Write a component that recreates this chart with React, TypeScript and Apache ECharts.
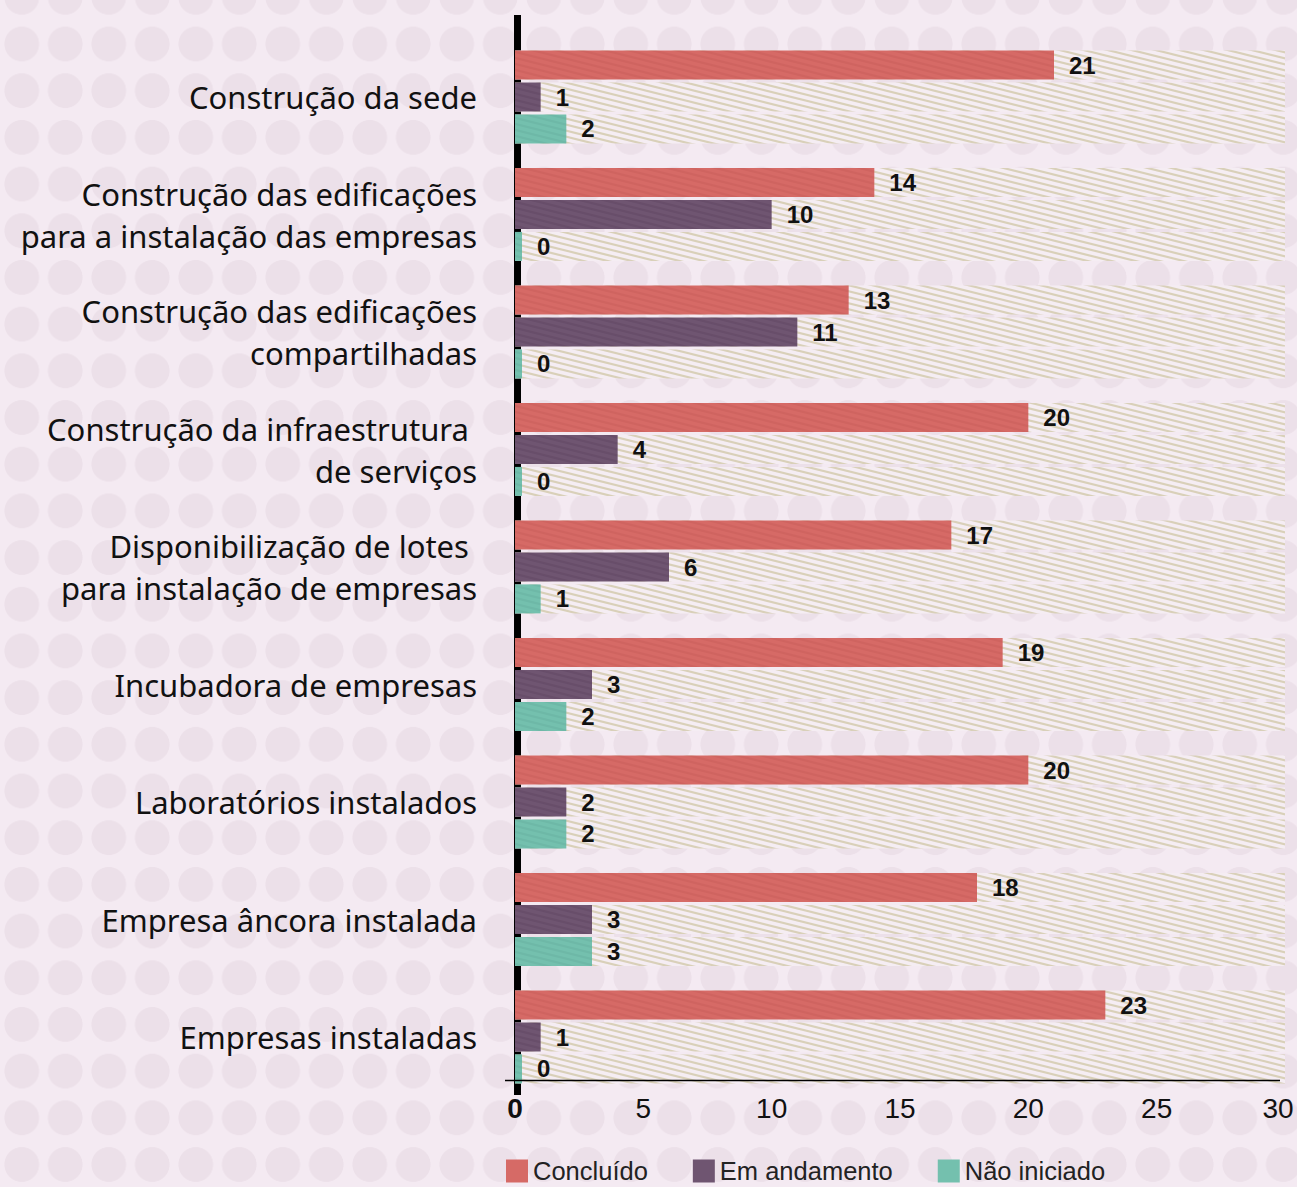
import React, { useEffect, useRef } from "react";
import * as echarts from "echarts";

const categories = [
  "Construção da sede",
  "Construção das edificações\npara a instalação das empresas",
  "Construção das edificações\ncompartilhadas",
  "Construção da infraestrutura \nde serviços",
  "Disponibilização de lotes \npara instalação de empresas",
  "Incubadora de empresas",
  "Laboratórios instalados",
  "Empresa âncora instalada",
  "Empresas instaladas",
];
const seriesNames = ["Concluído", "Em andamento", "Não iniciado"];
const concluido = [21, 14, 13, 20, 17, 19, 20, 18, 23];
const emAndamento = [1, 10, 11, 4, 6, 3, 2, 3, 1];
const naoIniciado = [2, 0, 0, 0, 1, 2, 2, 3, 0];
const xMin = 0;
const xMax = 30;
const xInterval = 5;

const barColors = ["#d66a66", "#6f5571", "#74c0ae"];
const barStripes = ["#cf6460", "#684e6a", "#6eb8a7"];
const BG = "#f4eaf2";
const DOT = "#ece0e9";
const FONT_HELV = "Liberation Sans, Arial, sans-serif";

function stripeTile(bg: string, fg: string, w = 24, h = 6, thick = 2.2) {
  const c = document.createElement("canvas");
  c.width = w;
  c.height = h;
  const ctx = c.getContext("2d")!;
  ctx.fillStyle = bg;
  ctx.fillRect(0, 0, w, h);
  ctx.fillStyle = fg;
  for (let k = -3; k <= 3; k++) {
    ctx.beginPath();
    ctx.moveTo(-w, -h + k * h);
    ctx.lineTo(2 * w, 2 * h + k * h);
    ctx.lineTo(2 * w, 2 * h + k * h + thick);
    ctx.lineTo(-w, -h + k * h + thick);
    ctx.closePath();
    ctx.fill();
  }
  return { image: c, repeat: "repeat", imageWidth: w, imageHeight: h } as any;
}

export default function App() {
  const ref = useRef<HTMLDivElement>(null);
  useEffect(() => {
    if (!ref.current) return;
    const chart = echarts.init(ref.current, undefined, { renderer: "svg" });
    const hatch = stripeTile("#f5edf3", "#d9d0b9", 24, 6, 2.2);
    const dataSets = [concluido, emAndamento, naoIniciado];
    const series = dataSets.map((d, i) => ({
      type: "bar",
      name: seriesNames[i],
      data: d,
      barWidth: 29,
      barGap: "10%",
      barMinHeight: 7,
      itemStyle: { color: stripeTile(barColors[i], barStripes[i], 24, 6, 2.2) },
      showBackground: true,
      backgroundStyle: { color: hatch },
      label: {
        show: true,
        position: "right",
        distance: 15,
        color: "#111",
        fontSize: 24,
        fontWeight: "bold",
        fontFamily: FONT_HELV,
      },
    }));
    const option: any = {
      animation: false,
      backgroundColor: "transparent",
      grid: { left: 515, right: 12, top: 38.25, bottom: 91.25, containLabel: false },
      legend: {
        left: 506,
        top: 1158,
        padding: 0,
        itemWidth: 22,
        itemHeight: 23,
        itemGap: 45,
        icon: "rect",
        textStyle: { fontSize: 25.5, fontFamily: FONT_HELV, color: "#222" },
        data: seriesNames.map((n, i) => ({ name: n, itemStyle: { color: barColors[i] } })),
      },
      xAxis: {
        type: "value",
        min: xMin,
        max: xMax,
        interval: xInterval,
        axisLine: { show: false },
        axisTick: { show: false },
        splitLine: { show: false },
        axisLabel: {
          fontSize: 28,
          fontFamily: FONT_HELV,
          color: "#111",
          margin: -1,
          formatter: (v: number) =>
            v === xMin ? "{b|" + v + "}" : v === xMax ? "{r|" + v + "}" : String(v),
          rich: {
            b: { fontSize: 28, fontWeight: "bold", fontFamily: FONT_HELV, color: "#111" },
            r: { fontSize: 28, fontFamily: FONT_HELV, color: "#111", padding: [0, 14, 0, 0] },
          },
        },
      },
      yAxis: {
        type: "category",
        data: categories,
        inverse: true,
        axisLine: { show: false },
        axisTick: { show: false },
        axisLabel: {
          fontSize: 31,
          fontFamily: "Noto Sans, sans-serif",
          color: "#111",
          margin: 38,
          lineHeight: 42,
        },
      },
      graphic: {
        elements: [
          {
            type: "line",
            z: 0,
            silent: true,
            shape: { x1: 517.5, y1: 15, x2: 517.5, y2: 1095 },
            style: { stroke: "#000", lineWidth: 7 },
          },
          {
            type: "line",
            z: 50,
            silent: true,
            shape: { x1: 505, y1: 1080.5, x2: 1280, y2: 1080.5 },
            style: { stroke: "#000", lineWidth: 1.5 },
          },
        ],
      },
      series,
    };
    chart.setOption(option);
    return () => chart.dispose();
  }, []);
  return (
    <div
      ref={ref}
      style={{
        position: "absolute",
        left: 0,
        top: 0,
        width: 1297,
        height: 1187,
        backgroundColor: BG,
        backgroundImage: `radial-gradient(circle at center, ${DOT} 0px, ${DOT} 17px, transparent 17.7px)`,
        backgroundSize: "43.5px 46.7px",
        backgroundPosition: "0px 20.65px",
      }}
    />
  );
}
